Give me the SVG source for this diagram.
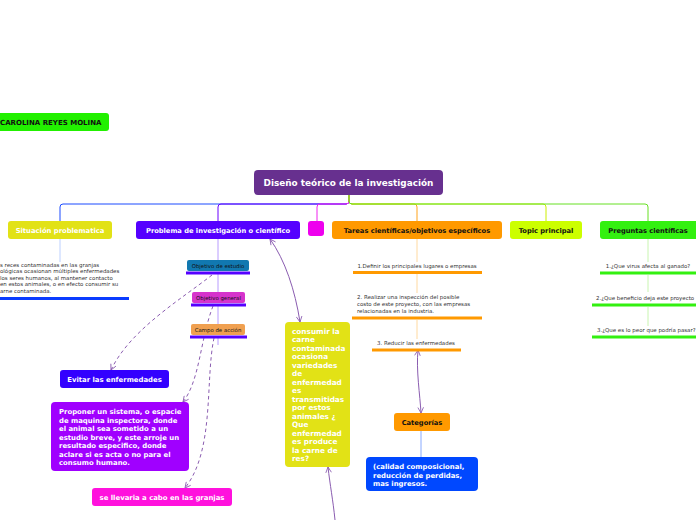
<svg xmlns="http://www.w3.org/2000/svg" width="696" height="520" viewBox="0 0 696 520">
<style>
text{font-family:"DejaVu Sans","Verdana",sans-serif;}
.b{font-weight:bold;}
.w{fill:#ffffff;}
.k{fill:#111111;}
.s{font-size:5.45px;fill:#333333;}
.c{fill:none;stroke-width:1;}
.d{fill:none;stroke:#8a5cb0;stroke-width:1;stroke-dasharray:3.5,3;}
.a{fill:none;stroke:#8a5cb0;stroke-width:1;}
.u{stroke-width:3;}
</style>
<defs>
<marker id="ar" viewBox="0 0 10 10" refX="9" refY="5" markerWidth="7" markerHeight="7" orient="auto-start-reverse" markerUnits="userSpaceOnUse">
<path d="M1,1 L9,5 L1,9" fill="none" stroke="#8a5cb0" stroke-width="1.2"/>
</marker>
</defs>
<rect width="696" height="520" fill="#ffffff"/>

<g id="connectors">
<path class="c" stroke="#1a4bff" d="M349,195 V201 Q349,204 346,204 H63 Q60,204 60,207 V221"/>
<path class="c" stroke="#6a00ff" d="M349,195 V201 Q349,204 346,204 H221 Q218,204 218,207 V221"/>
<path class="c" stroke="#ee22ee" d="M349,195 V201 Q349,204 346,204 H320 Q317,204 317,207 V221"/>
<path class="c" stroke="#ffa31a" d="M349,195 V201 Q349,204 352,204 H414 Q417,204 417,207 V221"/>
<path class="c" stroke="#ccee00" d="M349,195 V201 Q349,204 352,204 H543 Q546,204 546,207 V221"/>
<path class="c" stroke="#66e022" d="M349,195 V201 Q349,204 352,204 H645 Q648,204 648,207 V221"/>
<path class="c" stroke="#bcd0ff" d="M60,239 V262"/>
<path class="c" stroke="#b89cff" d="M218,239 V260 M218,274 V292 M218,306 V324 M218,338 V345"/>
<path class="c" stroke="#ffd9a0" d="M417,239 V262 M417,274 V293 M417,320 V339"/>
<path class="c" stroke="#c8f5b0" d="M648,239 V262 M648,275 V292 M648,307 V326"/>
<path class="c" stroke="#88aaff" d="M421,431 V457"/>
<path class="d" marker-end="url(#ar)" d="M212,275 C180,300 130,330 111,370"/>
<path class="d" marker-end="url(#ar)" d="M213,306 C200,340 200,380 183,402"/>
<path class="d" marker-end="url(#ar)" d="M214,338 C205,380 215,450 185,488"/>
<path class="a" marker-start="url(#ar)" marker-end="url(#ar)" d="M270,239 C285,260 295,290 300,322"/>
<path class="a" marker-start="url(#ar)" marker-end="url(#ar)" d="M418,350 C416,370 420,395 421,413"/>
<path class="a" marker-end="url(#ar)" d="M335,520 C333,500 330,485 328,467"/>
</g>

<g id="root">
<rect x="254" y="170" width="189" height="25" rx="4" fill="#67308f"/>
<text class="b w" x="348.5" y="186" font-size="8.9" text-anchor="middle">Diseño teórico de la investigación</text>
</g>

<g id="carolina">
<rect x="-5" y="113" width="114" height="18" rx="3" fill="#22f000"/>
<text class="b k" x="0" y="125" font-size="7">CAROLINA REYES MOLINA</text>
</g>

<g id="situacion">
<rect x="8" y="221" width="104" height="18" rx="3" fill="#e2e216"/>
<text class="b w" x="60" y="233" font-size="6.8" text-anchor="middle">Situación problematica</text>
</g>
<g id="situacion-texto">
<text class="s" x="0" y="267"><tspan x="0">s reces contaminadas en las granjas</tspan><tspan x="0" dy="6.4">ológicas ocasionan múltiples enfermedades</tspan><tspan x="0" dy="6.4">los seres humanos, al mantener contacto</tspan><tspan x="0" dy="6.4">en estos animales, o en efecto consumir su</tspan><tspan x="0" dy="6.4">arne contaminada.</tspan></text>
<line class="u" x1="0" y1="298.5" x2="129" y2="298.5" stroke="#0a3cff"/>
</g>

<g id="problema">
<rect x="136" y="221" width="164" height="18" rx="3" fill="#5500ff"/>
<text class="b w" x="218" y="233" font-size="6.7" text-anchor="middle">Problema de investigación o científico</text>
</g>
<g id="obj-estudio">
<rect x="187" y="260" width="62" height="11" rx="2" fill="#1178b0"/>
<text class="k" x="218" y="268" font-size="5.4" text-anchor="middle">Objetivo de estudio</text>
<line class="u" x1="186" y1="273" x2="250" y2="273" stroke="#5500ff"/>
</g>
<g id="obj-general">
<rect x="192" y="292" width="53" height="11" rx="2" fill="#d633cc"/>
<text class="k" x="218.5" y="300" font-size="5.4" text-anchor="middle">Objetivo general</text>
<line class="u" x1="191" y1="305" x2="246" y2="305" stroke="#5500ff"/>
</g>
<g id="campo">
<rect x="191" y="324" width="54" height="11" rx="2" fill="#f0a050"/>
<text class="k" x="218" y="332" font-size="5.4" text-anchor="middle">Campo de acción</text>
<line class="u" x1="190" y1="337" x2="247" y2="337" stroke="#5500ff"/>
</g>

<g id="magenta">
<rect x="308" y="221" width="16" height="15" rx="3" fill="#ee00ee"/>
</g>

<g id="tareas">
<rect x="332" y="221" width="170" height="18" rx="3" fill="#ff9900"/>
<text class="b k" x="417" y="233" font-size="6.7" text-anchor="middle">Tareas científicas/objetivos específicos</text>
</g>
<g id="tarea1">
<text class="s" x="417" y="268" text-anchor="middle">1.Definir los principales lugares o empresas</text>
<line class="u" x1="353" y1="272.5" x2="482" y2="272.5" stroke="#ff9900"/>
</g>
<g id="tarea2">
<text class="s" x="357" y="299"><tspan x="357">2. Realizar una inspección del posible</tspan><tspan x="357" dy="7">costo de este proyecto, con las empresas</tspan><tspan x="357" dy="7">relacionadas en la industria.</tspan></text>
<line class="u" x1="352" y1="318" x2="482" y2="318" stroke="#ff9900"/>
</g>
<g id="tarea3">
<text class="s" x="377" y="345">3. Reducir las enfermedades</text>
<line class="u" x1="372" y1="350" x2="461" y2="350" stroke="#ff9900"/>
</g>

<g id="topic">
<rect x="510" y="221" width="72" height="18" rx="3" fill="#ccff00"/>
<text class="b k" x="546" y="233" font-size="6.7" text-anchor="middle">Topic principal</text>
</g>

<g id="preguntas">
<rect x="600" y="221" width="100" height="18" rx="3" fill="#33f010"/>
<text class="b k" x="648" y="233" font-size="6.7" text-anchor="middle">Preguntas científicas</text>
</g>
<g id="preg1">
<text class="s" x="648" y="268" text-anchor="middle">1.¿Que virus afecta al ganado?</text>
<line class="u" x1="600" y1="273" x2="696" y2="273" stroke="#33f010"/>
</g>
<g id="preg2">
<text class="s" x="596" y="300">2.¿Que beneficio deja este proyecto</text>
<line class="u" x1="592" y1="305" x2="696" y2="305" stroke="#33f010"/>
</g>
<g id="preg3">
<text class="s" x="597" y="332">3.¿Que es lo peor que podría pasar?</text>
<line class="u" x1="592" y1="337" x2="696" y2="337" stroke="#33f010"/>
</g>

<g id="consumir">
<rect x="285" y="322" width="65" height="145" rx="4" fill="#e2e216"/>
<text class="b w" x="292" y="334" font-size="7.3"><tspan x="292">consumir la</tspan><tspan x="292" dy="8.47">carne</tspan><tspan x="292" dy="8.47">contaminada</tspan><tspan x="292" dy="8.47">ocasiona</tspan><tspan x="292" dy="8.47">variedades</tspan><tspan x="292" dy="8.47">de</tspan><tspan x="292" dy="8.47">enfermedad</tspan><tspan x="292" dy="8.47">es</tspan><tspan x="292" dy="8.47">transmitidas</tspan><tspan x="292" dy="8.47">por estos</tspan><tspan x="292" dy="8.47">animales ¿</tspan><tspan x="292" dy="8.47">Que</tspan><tspan x="292" dy="8.47">enfermedad</tspan><tspan x="292" dy="8.47">es produce</tspan><tspan x="292" dy="8.47">la carne de</tspan><tspan x="292" dy="8.47">res?</tspan></text>
</g>

<g id="evitar">
<rect x="60" y="370" width="109" height="18" rx="3" fill="#3300ff"/>
<text class="b w" x="114.5" y="382" font-size="6.9" text-anchor="middle">Evitar las enfermedades</text>
</g>

<g id="proponer">
<rect x="51" y="402" width="138" height="69" rx="4" fill="#a000ff"/>
<text class="b w" x="59" y="414" font-size="6.9"><tspan x="59">Proponer un sistema, o espacie</tspan><tspan x="59" dy="8.5">de maquina inspectora, donde</tspan><tspan x="59" dy="8.5">el animal sea sometido a un</tspan><tspan x="59" dy="8.5">estudio breve, y este arroje un</tspan><tspan x="59" dy="8.5">resultado especifico, donde</tspan><tspan x="59" dy="8.5">aclare si es acta o no para el</tspan><tspan x="59" dy="8.5">consumo humano.</tspan></text>
</g>

<g id="llevaria">
<rect x="92" y="488" width="140" height="18" rx="3" fill="#ff11dd"/>
<text class="b w" x="162" y="500" font-size="6.9" text-anchor="middle">se llevaria a cabo en las granjas</text>
</g>

<g id="categorias">
<rect x="394" y="413" width="56" height="18" rx="3" fill="#ff9900"/>
<text class="b k" x="422" y="425" font-size="6.7" text-anchor="middle">Categorías</text>
</g>

<g id="calidad">
<rect x="366" y="457" width="112" height="34" rx="4" fill="#0048ff"/>
<text class="b w" x="373" y="469" font-size="6.9"><tspan x="373">(calidad composicional,</tspan><tspan x="373" dy="8.5">reducción de perdidas,</tspan><tspan x="373" dy="8.5">mas ingresos.</tspan></text>
</g>
</svg>
